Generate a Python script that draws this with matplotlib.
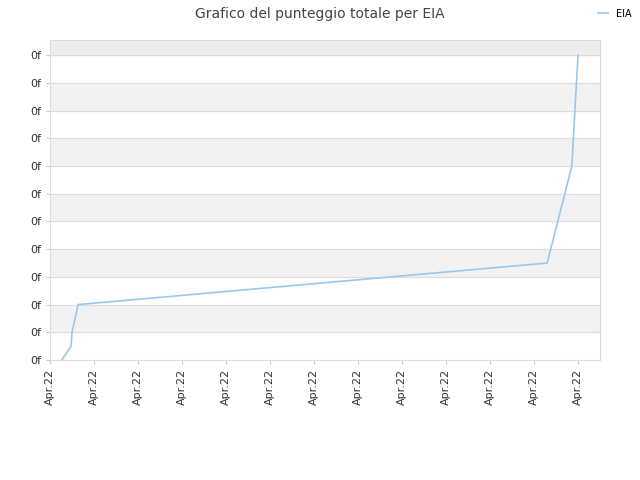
import matplotlib
matplotlib.use("Agg")
import matplotlib.pyplot as plt

x_vals = [0.27, 0.48, 0.5, 0.64, 11.3, 11.86, 12.0]
y_vals = [0.0, 0.5, 1.0, 2.0, 3.5, 7.0, 11.0]
x_ticks = list(range(13))
x_labels = ["Apr.22"] * 13
y_ticks = list(range(12))
y_labels = ["0f"] * 12

fig = plt.figure(figsize=(6.4, 4.8), dpi=100)
ax = fig.add_axes([50/640, 1-360/480, 550/640, 320/480])
ax.set_xlim(0, 12.5)
ax.set_ylim(0, 11.55)
for i in range(12):
    if i % 2 == 1:
        ax.axhspan(i, i+1, color="#f2f2f2", zorder=0)
ax.axhspan(11, 11.55, color="#eeeeee", zorder=0)
ax.grid(axis="y", color="#dddddd", linewidth=0.8)
ax.set_axisbelow(True)
ax.plot(x_vals, y_vals, color="#99c8f0", linewidth=1.2, label="EIA")
ax.set_xticks(x_ticks)
ax.set_xticklabels(x_labels, rotation=90, fontsize=8, color="#333333")
ax.set_yticks(y_ticks)
ax.set_yticklabels(y_labels, fontsize=8, color="#333333")
for s in ax.spines.values():
    s.set_color("#dddddd")
ax.tick_params(length=3, color="#cccccc")
fig.suptitle("Grafico del punteggio totale per EIA", y=0.985, fontsize=10, color="#444444")
fig.legend(loc="upper right", bbox_to_anchor=(1.0, 1.0), frameon=False, fontsize=7, handlelength=1)
fig.savefig("out.png", dpi=100)
